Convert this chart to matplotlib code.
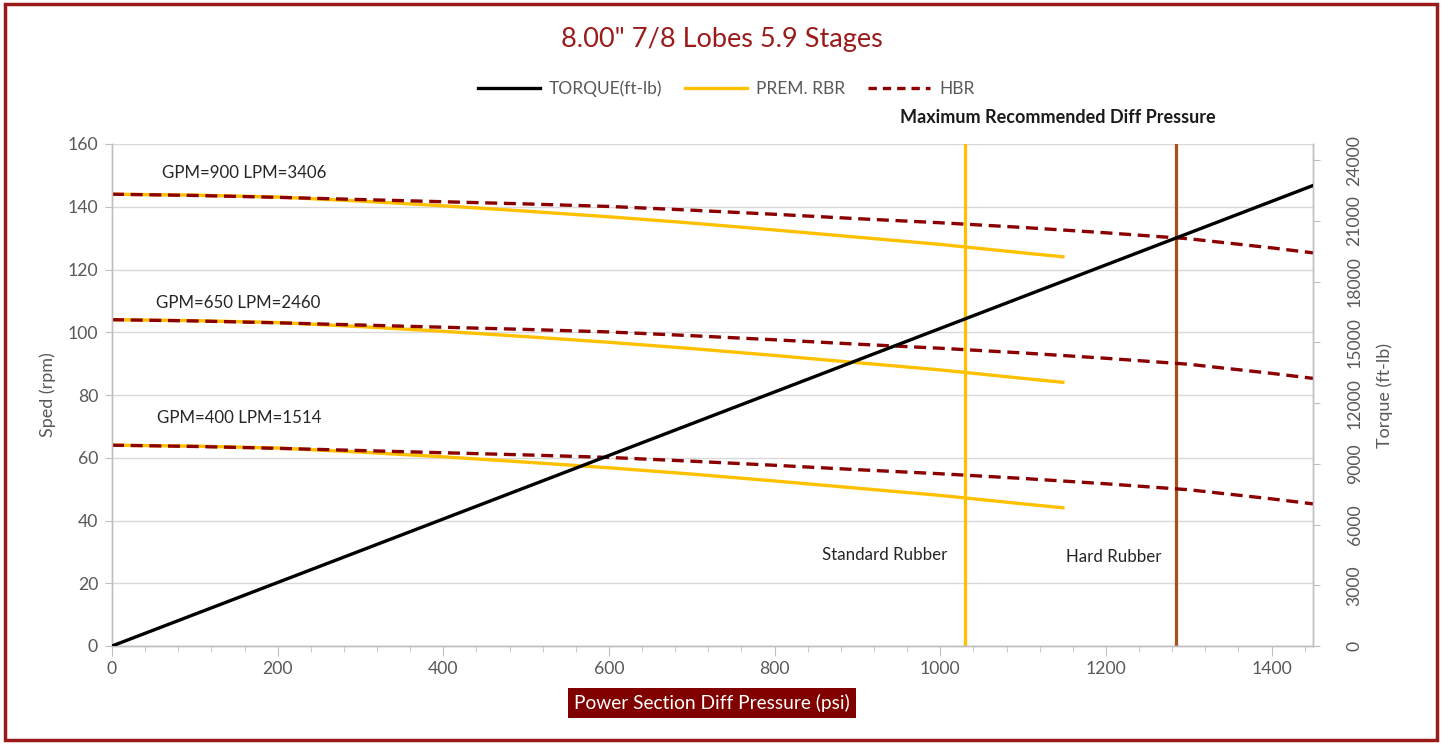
import matplotlib
matplotlib.use("Agg")
import matplotlib.pyplot as plt
from matplotlib.ticker import MultipleLocator
from matplotlib.patches import Rectangle
from matplotlib.lines import Line2D

plt.rcParams['font.family'] = ['Lato', 'DejaVu Sans']

# ---------------- data ----------------
title = '8.00" 7/8 Lobes 5.9 Stages'
pressure_rbr = [0, 100, 200, 300, 400, 500, 600, 700, 800, 900, 1000, 1100, 1150]
rbr_900 = [144, 143.7, 143.1, 141.8, 140.3, 138.6, 136.8, 134.8, 132.6, 130.3, 128.0, 125.3, 124.0]
rbr_650 = [104, 103.7, 103.1, 101.8, 100.3, 98.6, 96.8, 94.8, 92.6, 90.3, 88.0, 85.3, 84.0]
rbr_400 = [64, 63.7, 63.1, 61.8, 60.3, 58.6, 56.8, 54.8, 52.6, 50.3, 48.0, 45.3, 44.0]

pressure_hbr = [0, 100, 200, 300, 400, 500, 600, 700, 800, 900, 1000, 1100, 1200, 1300, 1400, 1450]
hbr_900 = [144, 143.6, 143.0, 142.3, 141.6, 140.9, 140.1, 138.9, 137.6, 136.2, 134.9, 133.4, 131.7, 129.8, 126.9, 125.3]
hbr_650 = [104, 103.6, 103.0, 102.3, 101.6, 100.9, 100.1, 98.9, 97.6, 96.2, 94.9, 93.4, 91.7, 89.8, 86.9, 85.3]
hbr_400 = [64, 63.6, 63.0, 62.3, 61.6, 60.9, 60.1, 58.9, 57.6, 56.2, 54.9, 53.4, 51.7, 49.8, 46.9, 45.3]

pressure_torque = [0, 1450]
torque = [0, 22750]

flow_labels = ["GPM=900 LPM=3406", "GPM=650 LPM=2460", "GPM=400 LPM=1514"]
flow_label_pos = [(160, 150.8), (152, 109.4), (154, 72.7)]

std_rubber_limit = 1030
hard_rubber_limit = 1285

speed_ticks = [0, 20, 40, 60, 80, 100, 120, 140, 160]
torque_ticks = [0, 3000, 6000, 9000, 12000, 15000, 18000, 21000, 24000]
pressure_ticks = [0, 200, 400, 600, 800, 1000, 1200, 1400]
torque_axis_max = 24800

# ---------------- styles ----------------
DARKRED = '#9B1B1B'
YELLOW = '#FFC000'
HBRCOL = '#8B0000'
BROWN = '#A9501C'
GREY = '#595959'
GRID = '#D9D9D9'
SPINE = '#BFBFBF'

fig = plt.figure(figsize=(14.42, 7.44), dpi=100)
ax = fig.add_axes([112/1442, 1 - 646/744, (1313 - 112)/1442, (646 - 144)/744])
ax2 = ax.twinx()

# speed curves
for ys in (rbr_900, rbr_650, rbr_400):
    ax.plot(pressure_rbr, ys, color=YELLOW, lw=2.4, solid_capstyle='butt', zorder=3)
for ys in (hbr_900, hbr_650, hbr_400):
    ax.plot(pressure_hbr, ys, color=HBRCOL, lw=2.4, dashes=(3.6, 2.0), zorder=4)

# vertical limit lines
ax.axvline(std_rubber_limit, color=YELLOW, lw=2.3, zorder=2)
ax.axvline(hard_rubber_limit, color=BROWN, lw=2.3, zorder=2)

# torque
ax2.plot(pressure_torque, torque, color='black', lw=2.4, zorder=5)

ax.set_xlim(0, 1450)
ax.set_ylim(0, 160)
ax2.set_ylim(0, torque_axis_max)
ax.set_xticks(pressure_ticks)
ax.xaxis.set_minor_locator(MultipleLocator(40))
ax.set_yticks(speed_ticks)
ax2.set_yticks(torque_ticks)

ax.grid(axis='y', color=GRID, lw=1.0, zorder=0)
ax.set_axisbelow(True)

for a in (ax, ax2):
    a.spines['top'].set_visible(False)
    for s in ('left', 'bottom', 'right'):
        a.spines[s].set_color(SPINE)
        a.spines[s].set_linewidth(1.0)

ax.tick_params(axis='x', which='major', length=7, color=SPINE, labelcolor=GREY, labelsize=12.7, pad=4)
ax.tick_params(axis='x', which='minor', length=4, color=SPINE)
ax.tick_params(axis='y', length=5, color=SPINE, labelcolor=GREY, labelsize=12.7, pad=5)
ax2.tick_params(axis='y', length=5, color=SPINE, labelcolor=GREY, labelsize=12.7, pad=25)
for lab in ax2.get_yticklabels():
    lab.set_rotation(90)
    lab.set_va('center')
    lab.set_ha('center')

ax.set_ylabel('Sped (rpm)', color=GREY, fontsize=13, labelpad=8)
ax2.set_ylabel('Torque (ft-lb)', color=GREY, fontsize=13, labelpad=10)

# annotations
for txt, (xp, yp) in zip(flow_labels, flow_label_pos):
    ax.text(xp, yp, txt, ha='center', va='center', fontsize=12.2, color='#262626')
ax.text(933, 29.0, 'Standard Rubber', ha='center', va='center', fontsize=12.2, color='#262626')
ax.text(1210, 28.4, 'Hard Rubber', ha='center', va='center', fontsize=12.2, color='#262626')
ax.text(1142, 168.4, 'Maximum Recommended Diff Pressure', ha='center', va='center',
        fontsize=13, fontweight='bold', color='#1a1a1a', clip_on=False)

# title
fig.text(722/1442, 1 - 40/744, title, ha='center', va='center', fontsize=19.5, color=DARKRED)

# legend
handles = [Line2D([], [], color='black', lw=2.4),
           Line2D([], [], color=YELLOW, lw=2.4),
           Line2D([], [], color=HBRCOL, lw=2.4, dashes=(2.5, 1.8))]
leg = fig.legend(handles, ['TORQUE(ft-lb)', 'PREM. RBR', 'HBR'], loc='center',
                 bbox_to_anchor=(726/1442, 1 - 89/744), ncol=3, frameon=False,
                 fontsize=12.5, handlelength=3.6, columnspacing=1.3, handletextpad=0.5)
for t in leg.get_texts():
    t.set_color(GREY)

# x-axis label in dark red box
fig.text(712/1442, 1 - 703/744, 'Power Section Diff Pressure (psi)', ha='center', va='center',
         fontsize=13.8, color='white',
         bbox=dict(boxstyle='square,pad=0.33', facecolor='#800000', edgecolor='none'))

# outer border
fig.add_artist(Rectangle((5/1442, 4/744), 1432/1442, 736/744, transform=fig.transFigure,
                         fill=False, edgecolor=DARKRED, lw=2.5))

fig.savefig('out.png', dpi=100)
